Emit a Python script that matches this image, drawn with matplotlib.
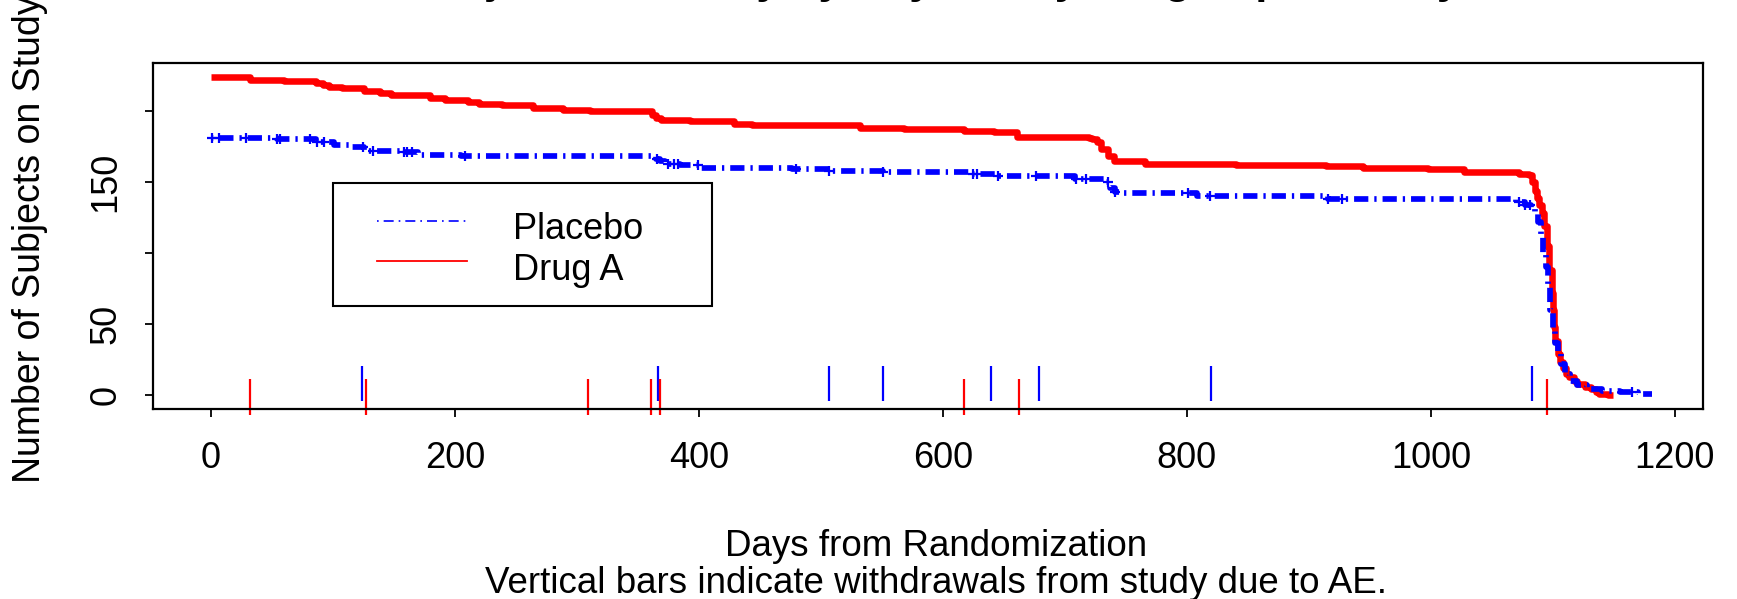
import numpy as np
import matplotlib
matplotlib.use("Agg")
import matplotlib.pyplot as plt
from matplotlib.patches import Rectangle
from matplotlib.lines import Line2D

plt.rcParams["font.family"] = ["Liberation Sans", "DejaVu Sans"]

# --------------------------------------------------------------
# data
# --------------------------------------------------------------
drug_days = [0, 32, 60, 86, 92, 97, 108, 126, 139, 148, 180, 192, 211, 220, 239,
             264, 289, 311, 362, 365, 369, 393, 429, 444, 532, 568, 617, 642, 661,
             720, 722, 726, 730, 735, 740, 766, 840, 914, 944, 998, 1027, 1072,
             1080, 1083, 1085, 1087, 1089, 1091, 1093, 1095, 1097, 1099, 1100,
             1101, 1102, 1104, 1106, 1108, 1111, 1113, 1117, 1120, 1126, 1131,
             1135, 1138, 1145, 1149]
drug_n = [224, 222, 221, 220, 218, 217, 216, 214, 213, 211, 209, 208, 206, 205, 204,
          202, 201, 200, 197, 195, 194, 193, 191, 190, 188, 187, 186, 185, 182,
          181, 180, 178, 173, 168, 165, 163, 162, 161, 160, 159, 157, 156,
          155, 150, 144, 139, 134, 128, 119, 105, 88, 72, 60,
          48, 38, 29, 23, 19, 15, 13, 10, 8, 6, 4,
          2, 1, 0, 0]

placebo_days = [0, 54, 86, 101, 114, 126, 155, 170, 205, 365, 368, 372, 385, 400,
                476, 507, 551, 623, 645, 708, 733, 737, 741, 745, 808, 916, 1070,
                1077, 1082, 1085, 1088, 1090, 1092, 1094, 1096, 1098, 1100, 1102,
                1104, 1107, 1110, 1114, 1120, 1128, 1140, 1155, 1170, 1181]
placebo_n = [181, 180, 178, 176, 175, 172, 171, 169, 168, 166, 165, 163, 162, 160,
             159, 158, 157, 156, 154, 152, 150, 146, 143, 142, 140, 138, 136,
             134, 132, 128, 122, 112, 100, 90, 78, 60, 45, 37,
             30, 22, 15, 10, 7, 4, 3, 2, 1, 1]

# censored placebo subjects ("+" marks)
placebo_censor = [1, 7, 29, 54, 57, 81, 87, 93, 125, 133, 158, 161, 165, 208,
                  366, 375, 380, 383, 399, 480, 507, 551, 625, 628, 645, 676,
                  709, 717, 735, 741, 801, 819, 916, 927, 1072, 1077, 1081, 1165]

# withdrawals due to AE
ae_placebo = [124, 366.5, 506.6, 550.9, 639.4, 678.6, 819.7, 1082.7]
ae_drug = [31.8, 127, 309, 360.7, 368, 617.5, 662.5, 1095]

x_ticks = [0, 200, 400, 600, 800, 1000, 1200]
y_ticks = [0, 50, 100, 150, 200]
y_ticklabels = ["0", "50", "", "150", ""]

# --------------------------------------------------------------
W, H = 1737, 599
fig = plt.figure(figsize=(W / 100, H / 100), dpi=100)

def fx(px):
    return px / W

def fy(py):
    return 1 - py / H

ax = fig.add_axes([fx(153), fy(408.6), fx(1703) - fx(153), fy(63) - fy(408.6)])

ax.plot(drug_days, drug_n, drawstyle="steps-post", color="red", lw=4.7,
        solid_capstyle="butt", zorder=3)
ax.plot(placebo_days, placebo_n, drawstyle="steps-post", color="blue", lw=4.1,
        linestyle=(0, (0.4, 1.05, 2.5, 1.05)), dash_capstyle="butt", zorder=4)

idx = np.searchsorted(placebo_days, placebo_censor, side="right") - 1
cens_y = np.array(placebo_n)[idx]
ax.plot(placebo_censor, cens_y, linestyle="none", marker="+", color="blue",
        markersize=6.5, markeredgewidth=1.6, zorder=5)

ax.vlines(ae_placebo, -4.5, 20.5, color="blue", lw=1.6, zorder=2)
ax.vlines(ae_drug, -14, 11, color="red", lw=1.6, zorder=2, clip_on=False)

ax.set_xlim(-47.3, 1223)
ax.set_ylim(-9.5, 233.8)
ax.set_xticks(x_ticks)
ax.set_xticklabels([str(t) for t in x_ticks])
ax.set_yticks(y_ticks)
ax.set_yticklabels(y_ticklabels, rotation=90, va="center")
ax.tick_params(axis="both", direction="out", length=5.5, width=1.3,
               labelsize=26, colors="black")
ax.tick_params(axis="x", pad=18)
ax.tick_params(axis="y", pad=16)
for s in ax.spines.values():
    s.set_linewidth(1.6)

# legend box drawn by hand (R style)
fig.add_artist(Rectangle((fx(332.7), fy(306)), fx(712.3) - fx(332.7), fy(182.7) - fy(306),
                         transform=fig.transFigure, facecolor="white",
                         edgecolor="black", lw=1.5, zorder=10))
fig.add_artist(Line2D([fx(376.7), fx(466.7)], [fy(220.7), fy(220.7)],
                      transform=fig.transFigure, color="blue", lw=1.2,
                      linestyle=(0, (1, 3, 6, 3)), zorder=11))
fig.add_artist(Line2D([fx(376.7), fx(466.7)], [fy(260.7), fy(260.7)],
                      transform=fig.transFigure, color="red", lw=1.3, zorder=11))
fig.text(fx(512.7), fy(239), "Placebo", fontsize=26, va="baseline", ha="left", zorder=12)
fig.text(fx(512.7), fy(280), "Drug A", fontsize=26, va="baseline", ha="left", zorder=12)

# axis titles
fig.text(fx(30), fy(239), "Number of Subjects on Study", rotation=90,
         fontsize=27, ha="center", va="center")
fig.text(fx(936), fy(555.7), "Days from Randomization", fontsize=26.5,
         ha="center", va="baseline")
fig.text(fx(936), fy(593), "Vertical bars indicate withdrawals from study due to AE.",
         fontsize=26.5, ha="center", va="baseline")

# main title (sits mostly above the top edge, as in the reference)
fig.text(fx(928), fy(-7), "Number of Subjects on Study by Day: Study Drug Exposure by Treatment",
         fontsize=31, fontweight="bold", ha="center", va="baseline")

fig.savefig("out.png", dpi=100)
